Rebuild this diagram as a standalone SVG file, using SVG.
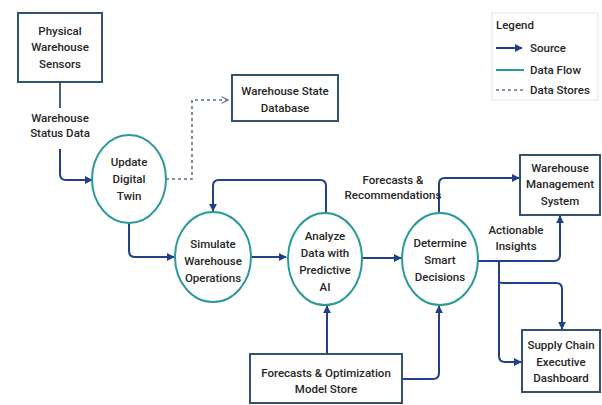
<svg xmlns="http://www.w3.org/2000/svg" width="602" height="405" viewBox="0 0 602 405">
  <defs>
    <marker id="arrow" viewBox="0 0 10 10" refX="9" refY="5" markerWidth="8" markerHeight="8" markerUnits="userSpaceOnUse" orient="auto">
      <path d="M0,0 L10,5 L0,10 z" fill="#22408a"/>
    </marker>
    <marker id="chevron" viewBox="0 0 10 10" refX="9" refY="5" markerWidth="8" markerHeight="8" markerUnits="userSpaceOnUse" orient="auto">
      <path d="M1,1 L9,5 L1,9" fill="none" stroke="#5a7391" stroke-width="1.5"/>
    </marker>
    <style>
      text { font-family: Roboto, "Liberation Sans", sans-serif; font-size: 11.5px; font-weight: 500; fill: #262626; text-anchor: middle; }
      .box { fill: #ffffff; stroke: #34526e; stroke-width: 2; }
      .proc { fill: #ffffff; stroke: #2a9a98; stroke-width: 2; }
      .flow { fill: none; stroke: #22408a; stroke-width: 2; }
      .plain { fill: none; stroke: #34526e; stroke-width: 1.8; }
      .store { fill: none; stroke: #5a7391; stroke-width: 1.6; stroke-dasharray: 3 3; }
      .legend { fill: #ffffff; stroke: #e3e3e3; stroke-width: 1; }
      .lg { text-anchor: start; }
    </style>
  </defs>

  <rect width="602" height="405" fill="#ffffff"/>

  <!-- connectors -->
  <g id="connectors">
    <path class="plain" d="M60,82 V108"/>
    <path class="flow" d="M60,149 V174 Q60,180 66,180 H92" marker-end="url(#arrow)"/>
    <path class="flow" d="M129,223 V251 Q129,257 135,257 H174" marker-end="url(#arrow)"/>
    <path class="store" d="M166,179 H192 V100 H228" marker-end="url(#chevron)"/>
    <path class="flow" d="M252,257 H286" marker-end="url(#arrow)"/>
    <path class="flow" d="M326,212 V186 Q326,180 320,180 H219 Q213,180 213,186 V211" marker-end="url(#arrow)"/>
    <path class="flow" d="M362,258 H401" marker-end="url(#arrow)"/>
    <path class="flow" d="M439,212 V184 Q439,178 445,178 H519" marker-end="url(#arrow)"/>
    <path class="flow" d="M477,261 H554 Q560,261 560,255 V216" marker-end="url(#arrow)"/>
    <path class="flow" d="M499,261 V282 Q499,283 505,283 H556 Q562,283 562,289 V329" marker-end="url(#arrow)"/>
    <path class="flow" d="M499,282 V356 Q499,362 505,362 H521" marker-end="url(#arrow)"/>
    <path class="flow" d="M327,354 V306" marker-end="url(#arrow)"/>
    <path class="flow" d="M402,379 H433 Q439,379 439,373 V306" marker-end="url(#arrow)"/>
  </g>

  <!-- edge labels -->
  <text x="60" y="122">Warehouse</text>
  <text x="60" y="137">Status Data</text>
  <text x="393" y="184">Forecasts &amp;</text>
  <text x="393" y="199">Recommendations</text>
  <text x="516" y="234">Actionable</text>
  <text x="516" y="250">Insights</text>

  <g id="sensors">
    <rect class="box" x="18" y="13" width="84" height="69"/>
    <text x="60" y="35">Physical</text>
    <text x="60" y="51">Warehouse</text>
    <text x="60" y="68">Sensors</text>
  </g>

  <g id="state-db">
    <rect class="box" x="232" y="75" width="106" height="46"/>
    <text x="285" y="95">Warehouse State</text>
    <text x="285" y="112">Database</text>
  </g>

  <g id="update-twin">
    <ellipse class="proc" cx="129" cy="179" rx="37" ry="44"/>
    <text x="129" y="166">Update</text>
    <text x="129" y="183">Digital</text>
    <text x="129" y="200">Twin</text>
  </g>

  <g id="simulate">
    <ellipse class="proc" cx="213" cy="257" rx="38" ry="45"/>
    <text x="213" y="248">Simulate</text>
    <text x="213" y="265">Warehouse</text>
    <text x="213" y="282">Operations</text>
  </g>

  <g id="analyze">
    <ellipse class="proc" cx="325" cy="259" rx="37" ry="46"/>
    <text x="325" y="240">Analyze</text>
    <text x="325" y="257">Data with</text>
    <text x="325" y="274">Predictive</text>
    <text x="325" y="291">AI</text>
  </g>

  <g id="determine">
    <ellipse class="proc" cx="440" cy="259" rx="38" ry="46"/>
    <text x="440" y="247">Determine</text>
    <text x="440" y="264">Smart</text>
    <text x="440" y="281">Decisions</text>
  </g>

  <g id="wms">
    <rect class="box" x="520" y="155" width="80" height="60"/>
    <text x="560" y="172">Warehouse</text>
    <text x="560" y="188">Management</text>
    <text x="560" y="205">System</text>
  </g>

  <g id="dashboard">
    <rect class="box" x="522" y="330" width="78" height="62"/>
    <text x="561" y="349">Supply Chain</text>
    <text x="561" y="366">Executive</text>
    <text x="561" y="382">Dashboard</text>
  </g>

  <g id="model-store">
    <rect class="box" x="250" y="354" width="152" height="49"/>
    <text x="326" y="377">Forecasts &amp; Optimization</text>
    <text x="326" y="393">Model Store</text>
  </g>

  <g id="legend">
    <rect class="legend" x="492" y="13" width="106" height="87"/>
    <text class="lg" x="496" y="29" font-weight="700">Legend</text>
    <path class="flow" d="M496,48 H522" marker-end="url(#arrow)"/>
    <text class="lg" x="530" y="52">Source</text>
    <path d="M496,70 H524" stroke="#2a9a98" stroke-width="2" fill="none"/>
    <text class="lg" x="530" y="74">Data Flow</text>
    <path class="store" d="M496,90 H524"/>
    <text class="lg" x="530" y="94">Data Stores</text>
  </g>
</svg>
